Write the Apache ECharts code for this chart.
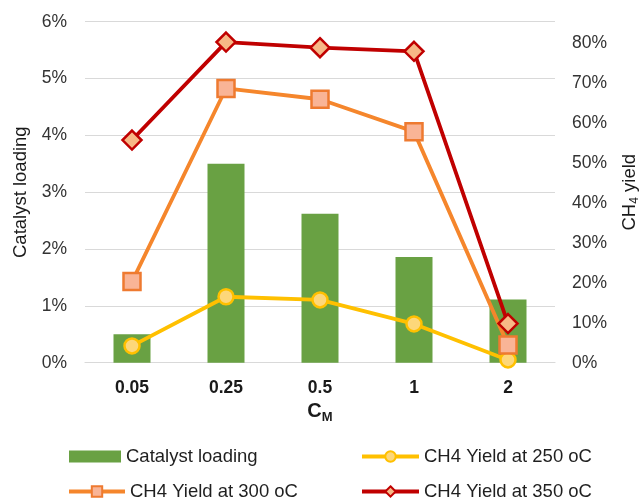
<!DOCTYPE html>
<html>
<head>
<meta charset="utf-8">
<script src="https://cdn.jsdelivr.net/npm/echarts@6/dist/echarts.min.js"></script>
<style>
  html, body { margin: 0; padding: 0; background: #fff; }
  #chart { width: 643px; height: 504px; }
</style>
</head>
<body>
<div id="chart"></div>
<script>
// Molar concentration levels (C_M)
const categories = ['0.05', '0.25', '0.5', '1', '2'];

// Catalyst loading, percent (left axis)
const catalystLoading = [0.50, 3.50, 2.62, 1.86, 1.11];

// CH4 yield, percent (right axis)
const yield250 = [4.2, 16.5, 15.7, 9.7, 0.7];
const yield300 = [20.3, 68.6, 65.9, 57.8, 4.4];
const yield350 = [55.7, 80.2, 78.8, 77.9, 9.8];

const leftTicks = { min: 0, max: 6, interval: 1 };
const rightTicks = { min: 0, max: 85.3, interval: 10 };

const FONT = 'Liberation Sans, Arial, sans-serif';
const TXT = '#333333';
const GRID = '#d9d9d9';

const chart = echarts.init(document.getElementById('chart'), null, { renderer: 'canvas' });

function lineSeries(name, data, color, symbol, size, fill, borderColor) {
  return {
    name: name,
    type: 'line',
    yAxisIndex: 1,
    data: data,
    symbol: symbol,
    symbolSize: size,
    showAllSymbol: true,
    lineStyle: { color: color, width: 3.8 },
    itemStyle: { color: fill, borderColor: borderColor, borderWidth: 2.5 },
    emphasis: { disabled: true }
  };
}

function legendBox(names, left, top, w, h, icon) {
  const l = {
    data: names,
    left: left,
    top: top,
    orient: 'horizontal',
    itemWidth: w,
    itemHeight: h,
    itemGap: 0,
    padding: 0,
    selectedMode: false,
    lineStyle: { width: 4 },
    textStyle: { fontFamily: FONT, fontSize: 18.5, color: '#1f1f1f' }
  };
  if (icon) l.icon = icon;
  return l;
}

chart.setOption({
  animation: false,
  textStyle: { fontFamily: FONT },
  grid: { left: 85, right: 88, top: 21.7, bottom: 141.3, containLabel: false, outerBoundsMode: 'none' },
  legend: [
    legendBox(['Catalyst loading'], 69, 447, 52, 12, 'rect'),
    legendBox(['CH4 Yield at 250 oC'], 360, 447, 57, 13),
    legendBox(['CH4 Yield at 300 oC'], 67, 482, 56, 13),
    legendBox(['CH4 Yield at 350 oC'], 360, 482, 57, 13)
  ],
  xAxis: {
    type: 'category',
    data: categories,
    boundaryGap: true,
    axisLine: { show: true, lineStyle: { color: GRID, width: 1.2 } },
    axisTick: { show: false },
    axisLabel: {
      margin: 16,
      fontFamily: FONT,
      fontSize: 17.5,
      fontWeight: 'bold',
      color: '#1a1a1a'
    },
    name: '{a|C}{b|M}',
    nameLocation: 'middle',
    nameGap: 34,
    nameTextStyle: {
      rich: {
        a: { fontFamily: FONT, fontSize: 20, fontWeight: 'bold', color: '#1a1a1a', lineHeight: 24 },
        b: { fontFamily: FONT, fontSize: 13, fontWeight: 'bold', color: '#1a1a1a', lineHeight: 13, verticalAlign: 'bottom' }
      }
    }
  },
  yAxis: [
    {
      type: 'value',
      min: leftTicks.min,
      max: leftTicks.max,
      interval: leftTicks.interval,
      position: 'left',
      axisLine: { show: false },
      axisTick: { show: false },
      splitLine: { show: true, lineStyle: { color: GRID, width: 1.2 } },
      axisLabel: { formatter: '{value}%', fontFamily: FONT, fontSize: 17.5, color: TXT, margin: 18 },
      name: 'Catalyst loading',
      nameLocation: 'middle',
      nameRotate: 90,
      nameGap: 54,
      nameTextStyle: { fontFamily: FONT, fontSize: 18.5, color: '#1a1a1a' }
    },
    {
      type: 'value',
      min: rightTicks.min,
      max: rightTicks.max,
      interval: rightTicks.interval,
      position: 'right',
      axisLine: { show: false },
      axisTick: { show: false },
      splitLine: { show: false },
      axisLabel: { formatter: '{value}%', fontFamily: FONT, fontSize: 17.5, color: TXT, margin: 17, showMaxLabel: false },
      name: '{a|CH}{b|4}{a| yield}',
      nameLocation: 'middle',
      nameRotate: 90,
      nameGap: 64,
      nameTextStyle: {
        rich: {
          a: { fontFamily: FONT, fontSize: 18.5, color: '#1a1a1a', lineHeight: 22 },
          b: { fontFamily: FONT, fontSize: 12, color: '#1a1a1a', lineHeight: 12, verticalAlign: 'bottom' }
        }
      }
    }
  ],
  series: [
    {
      name: 'Catalyst loading',
      type: 'bar',
      yAxisIndex: 0,
      data: catalystLoading,
      barWidth: 37,
      itemStyle: { color: '#69a143' },
      emphasis: { disabled: true }
    },
    lineSeries('CH4 Yield at 250 oC', yield250, '#ffc000', 'circle', 15, '#fdd77a', '#ffc000'),
    lineSeries('CH4 Yield at 300 oC', yield300, '#f5862c', 'rect', 17, '#f9b496', '#ee7a30'),
    lineSeries('CH4 Yield at 350 oC', yield350, '#c00000', 'diamond', 19, '#f7b886', '#c00000')
  ]
});
</script>
</body>
</html>
